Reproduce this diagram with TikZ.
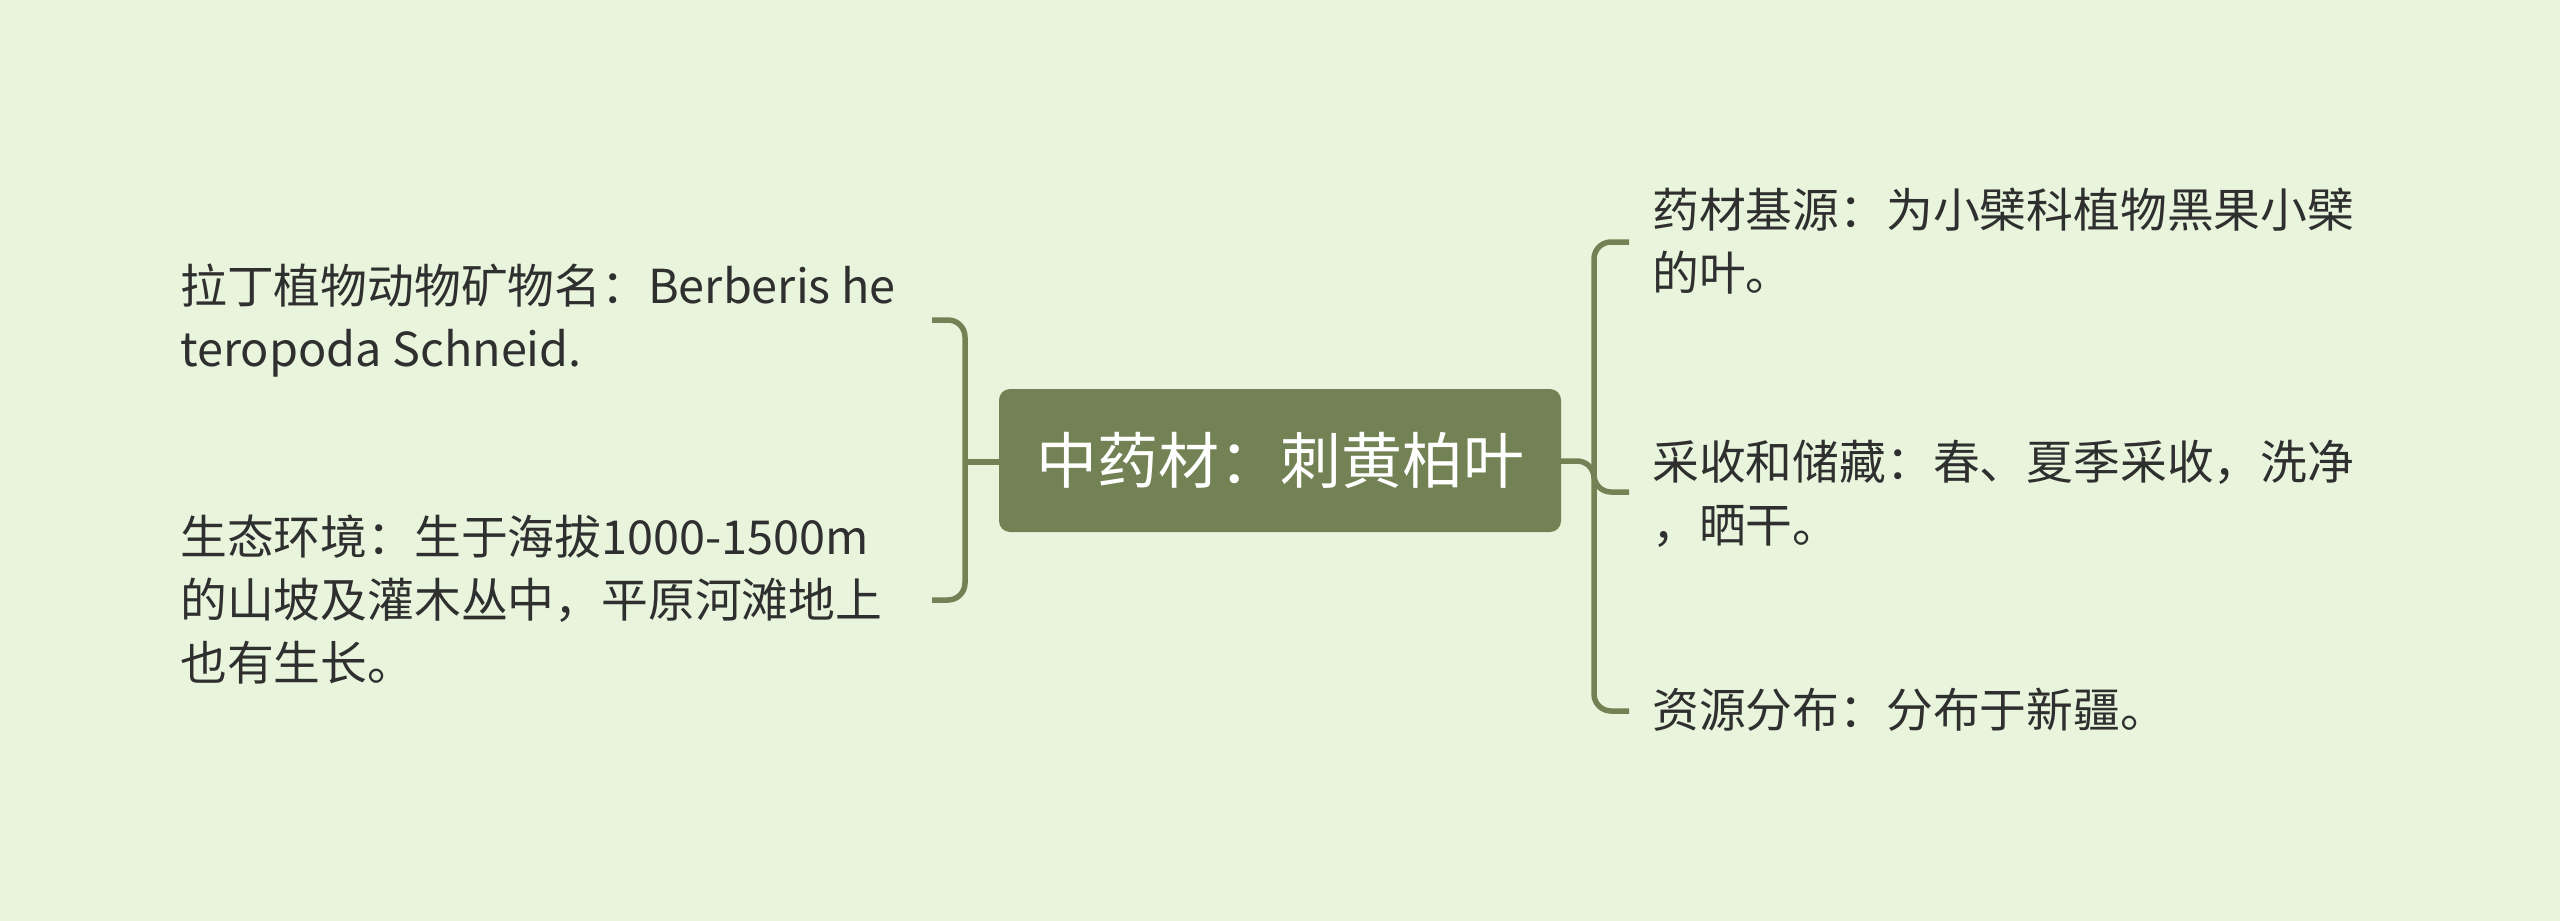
\documentclass[tikz,border=0pt]{standalone}
\usepackage{fontspec}
\setmainfont{Noto Sans CJK SC}
\definecolor{bgc}{HTML}{E8F5DC}
\definecolor{linkc}{HTML}{738254}
\definecolor{txtc}{HTML}{2F2F2F}
\begin{document}
\begin{tikzpicture}[x=1pt,y=-1pt,
  link/.style={draw=linkc,line width=5.5pt,rounded corners=17pt},
  leaf/.style={anchor=west,inner sep=0pt,align=left,text=txtc,font=\fontsize{46.8}{63}\selectfont},
  root/.style={fill=linkc,rounded corners=11pt,minimum width=562pt,minimum height=143pt,inner sep=0pt,text=white,font=\fontsize{61}{70}\selectfont}]
\fill[bgc] (0,0) rectangle (2560,921);
\useasboundingbox (0,0) rectangle (2560,921);
\node[root] (c) at (1280,460.5) {中药材：刺黄柏叶};
\node[leaf] (l1) at (180,321) {拉丁植物动物矿物名：Berberis he\\teropoda Schneid.};
\node[leaf] (l2) at (180,600) {生态环境：生于海拔1000-1500m\\的山坡及灌木丛中，平原河滩地上\\也有生长。};
\node[leaf] (r1) at (1652,241) {药材基源：为小檗科植物黑果小檗\\的叶。};
\node[leaf] (r2) at (1652,494) {采收和储藏：春、夏季采收，洗净\\，晒干。};
\node[leaf] (r3) at (1652,710) {资源分布：分布于新疆。};
\coordinate (lb) at (965,462);
\coordinate (l1e) at (932,320);
\coordinate (l2e) at (932,600);
\coordinate (rb) at (1594,461);
\coordinate (r1e) at (1629,242);
\coordinate (r2e) at (1629,492);
\coordinate (r3e) at (1629,711);
% left
\draw[link,rounded corners=0pt] (c.west |- lb) -- (lb);
\draw[link] (l1e) -- (l1e -| lb) -- (l2e -| lb) -- (l2e);
% right
\draw[link] (c.east |- rb) -- (rb) -- (rb |- r2e) -- (r2e);
\draw[link] (r1e) -- (r1e -| rb) -- (r3e -| rb) -- (r3e);
\end{tikzpicture}
\end{document}
